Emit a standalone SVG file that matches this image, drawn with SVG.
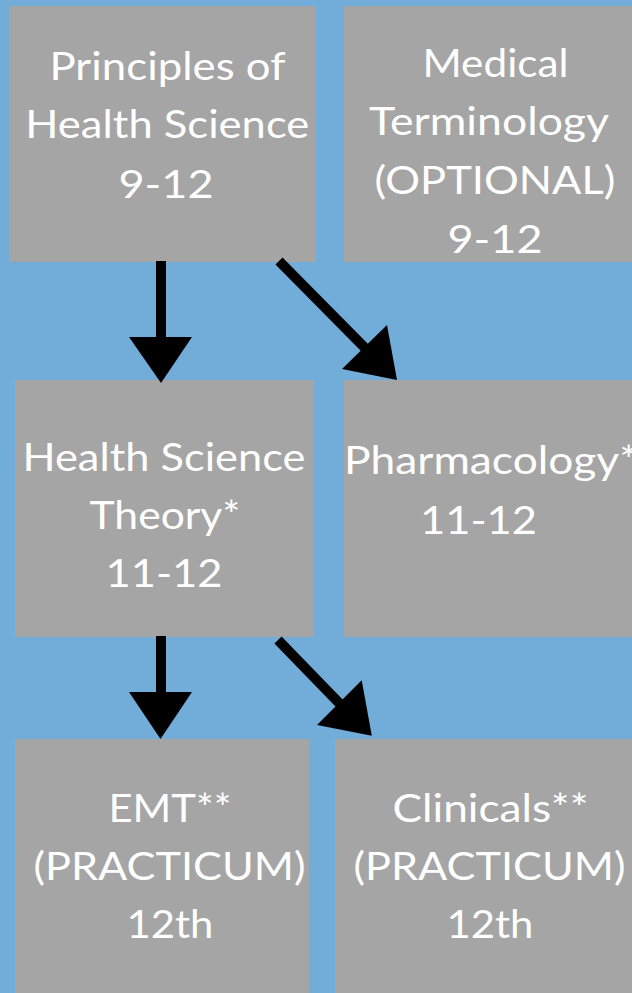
<svg xmlns="http://www.w3.org/2000/svg" width="632" height="993" viewBox="0 0 632 993">
<style>
.box{fill:#a5a5a5}
.t{font-family:"Lato","Open Sans",sans-serif;font-weight:400;font-size:39px;fill:#ffffff;text-anchor:middle}
.shaft{stroke:#000;stroke-width:10;fill:none}
.head{fill:#000}
</style>
<rect width="632" height="993" fill="#72acd9"/>
<g id="principles">
<rect class="box" x="9" y="6" width="307" height="256"/>
<text class="t" x="167.5" y="80" textLength="236" lengthAdjust="spacingAndGlyphs">Principles of</text>
<text class="t" x="167.3" y="138" textLength="284" lengthAdjust="spacingAndGlyphs">Health Science</text>
<text class="t" x="166" y="198" textLength="95" lengthAdjust="spacingAndGlyphs">9-12</text>
</g>
<g id="medical-terminology">
<rect class="box" x="344" y="6" width="288" height="256"/>
<text class="t" x="495.5" y="77" textLength="146" lengthAdjust="spacingAndGlyphs">Medical</text>
<text class="t" x="489" y="135" textLength="240" lengthAdjust="spacingAndGlyphs">Terminology</text>
<text class="t" x="495" y="194" textLength="241" lengthAdjust="spacingAndGlyphs">(OPTIONAL)</text>
<text class="t" x="495" y="253" textLength="95" lengthAdjust="spacingAndGlyphs">9-12</text>
</g>
<g id="health-science-theory">
<rect class="box" x="15" y="380" width="299" height="257"/>
<text class="t" x="164" y="471" textLength="283" lengthAdjust="spacingAndGlyphs">Health Science</text>
<text class="t" x="165" y="529" textLength="151" lengthAdjust="spacingAndGlyphs">Theory*</text>
<text class="t" x="164" y="587" textLength="117" lengthAdjust="spacingAndGlyphs">11-12</text>
</g>
<g id="pharmacology">
<rect class="box" x="344" y="380" width="288" height="257"/>
<text class="t" x="344" y="474" style="text-anchor:start" textLength="294" lengthAdjust="spacingAndGlyphs">Pharmacology*</text>
<text class="t" x="478.5" y="534" textLength="117" lengthAdjust="spacingAndGlyphs">11-12</text>
</g>
<g id="emt">
<rect class="box" x="15" y="739" width="294" height="254"/>
<text class="t" x="170" y="822" textLength="123" lengthAdjust="spacingAndGlyphs">EMT**</text>
<text class="t" x="169.5" y="880" textLength="272" lengthAdjust="spacingAndGlyphs">(PRACTICUM)</text>
<text class="t" x="170" y="938" textLength="87" lengthAdjust="spacingAndGlyphs">12th</text>
</g>
<g id="clinicals">
<rect class="box" x="335" y="739" width="297" height="254"/>
<text class="t" x="490.5" y="822" textLength="196" lengthAdjust="spacingAndGlyphs">Clinicals**</text>
<text class="t" x="489.5" y="880" textLength="272" lengthAdjust="spacingAndGlyphs">(PRACTICUM)</text>
<text class="t" x="490" y="938" textLength="87" lengthAdjust="spacingAndGlyphs">12th</text>
</g>
<g id="connectors">
<line class="shaft" x1="161" y1="261" x2="161" y2="338"/>
<polygon class="head" points="129,337 192,337 161,383"/>
<line class="shaft" x1="279" y1="261" x2="366" y2="349"/>
<polygon class="head" points="387,325 342,369 397,380"/>
<line class="shaft" x1="161" y1="636" x2="161" y2="693"/>
<polygon class="head" points="129,692 192,692 160.5,739"/>
<line class="shaft" x1="278" y1="640" x2="341" y2="705"/>
<polygon class="head" points="361.7,680.3 317,725 371.8,735.7"/>
</g>
</svg>
